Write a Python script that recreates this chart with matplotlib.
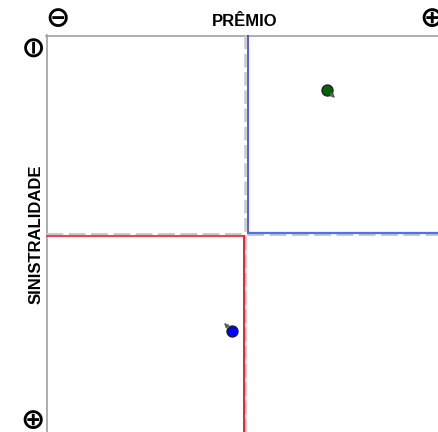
import matplotlib
matplotlib.use("Agg")
import matplotlib.pyplot as plt

# Data (units: arbitrary chart units, origin top-left of plot area, y downward)
x_label = "PRÊMIO"
y_label = "SINISTRALIDADE"
x_max, y_max = 392, 397
mid_x, mid_y = 199.5, 199.0           # dashed quadrant dividers
blue_corner = (201.8, 197.6)          # blue L boundary (upper-right quadrant)
red_corner = (198.2, 201.0)           # red L boundary (lower-left quadrant)
points_x = [281, 186]
points_y = [55, 296]
point_colors = ["#006400", "#0000ff"]
arrow_dx = [1, -1]
arrow_dy = [1, -1]

fig = plt.figure(figsize=(4.38, 4.32), dpi=100)
W, H = 438, 432
ax = fig.add_axes([46 / W, 0, (W - 46) / W, (H - 35) / H])
ax.set_xlim(0, x_max)
ax.set_ylim(y_max, 0)
ax.axis("off")

# frame (top & left)
ax.plot([0, x_max], [0.5, 0.5], color="#a0a0a0", lw=1.2, clip_on=False)
ax.plot([0.5, 0.5], [0, y_max], color="#a0a0a0", lw=1.2, clip_on=False)

# dashed dividers
ax.plot([mid_x, mid_x], [0, y_max], color="#c8c8c8", lw=1.8, dashes=(5.5, 1.8))
ax.plot([0, x_max], [mid_y, mid_y], color="#c8c8c8", lw=2.2, dashes=(5.5, 1.8))

# blue L
bx, by = blue_corner
ax.plot([bx, bx], [0, by], color="#2030e0", lw=1.1)
ax.plot([bx, x_max], [by, by], color="#5070f0", lw=1.6)

# red L
rx, ry = red_corner
ax.plot([0, rx], [ry, ry], color="#f03040", lw=1.3)
ax.plot([rx, rx], [ry, y_max], color="#f02030", lw=1.4)

# points with small arrows
for px, py, c, dx, dy in zip(points_x, points_y, point_colors, arrow_dx, arrow_dy):
    ax.plot(px, py, "o", ms=8, mfc=c, mec="#202020", mew=0.9, zorder=5)
    ax.annotate("", xy=(px + dx * 8, py + dy * 8), xytext=(px + dx * 3.5, py + dy * 3.5),
                arrowprops=dict(arrowstyle="-|>", color="#606060", lw=1.0,
                                mutation_scale=6, shrinkA=0, shrinkB=0), zorder=6)

# labels
fig.text(245 / W, 1 - 22 / H, x_label, ha="center", va="center",
         fontsize=12, fontweight="bold", family="Liberation Sans")
fig.text(36 / W, 1 - 234 / H, y_label, ha="center", va="center", rotation=90,
         fontsize=12, fontweight="bold", family="Liberation Sans")

# circled signs
sym = dict(ha="center", va="center", fontsize=21, fontweight="bold", family="DejaVu Sans")
fig.text(58 / W, 1 - 19 / H, "⊖", **sym)
fig.text(432 / W, 1 - 19 / H, "⊕", **sym)
fig.text(33 / W, 1 - 45 / H, "⊖", rotation=90, **sym)
fig.text(33 / W, 1 - 421 / H, "⊕", **sym)

fig.savefig("out.png", dpi=100)
